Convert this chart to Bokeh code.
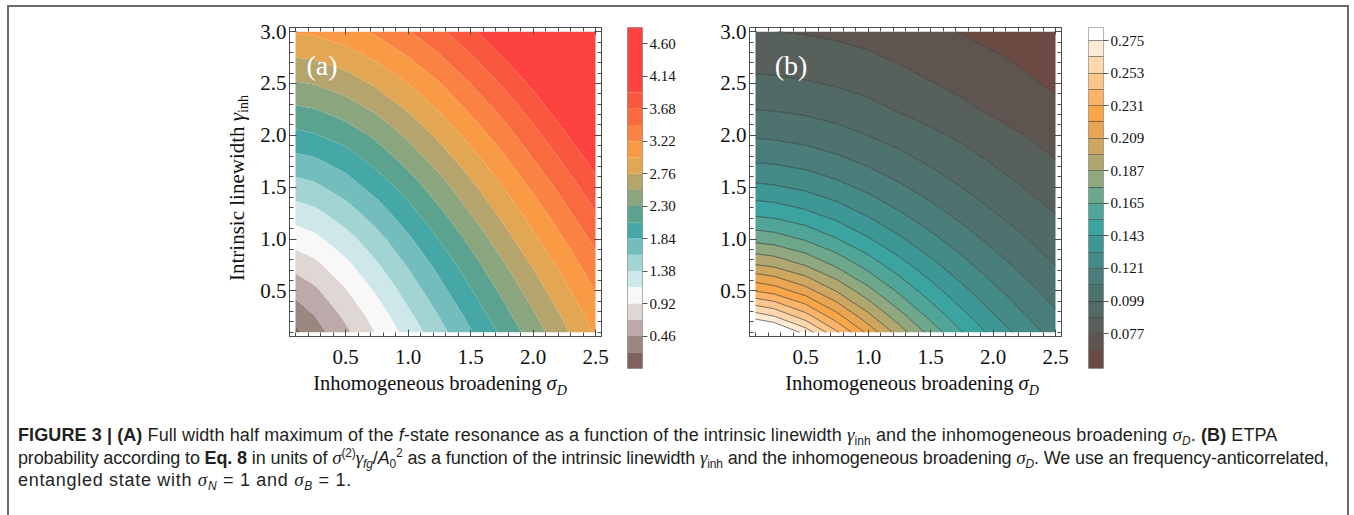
import numpy as np
from bokeh.plotting import figure
from bokeh.models import (Label, LinearAxis, SingleIntervalTicker, FixedTicker, Div,
                          PrintfTickFormatter, Range1d)
from bokeh.layouts import row, column
from bokeh.embed import file_html
from bokeh.resources import INLINE

# ---------------- data ----------------
sigma_D = [0.1, 0.25, 0.5, 0.75, 1.0, 1.25, 1.5, 1.75, 2.0, 2.25, 2.5]                 # x grid
gamma_inh = [0.1, 0.25, 0.5, 0.75, 1.0, 1.25, 1.5, 1.75, 2.0, 2.25, 2.5, 2.75, 3.0]    # y grid

# panel (a): FWHM, one list per gamma_inh value (across sigma_D)
fwhm_g010 = [0.18, 0.35, 0.64, 0.94, 1.23, 1.53, 1.82, 2.11, 2.41, 2.71, 3.03]
fwhm_g025 = [0.30, 0.45, 0.73, 1.02, 1.32, 1.61, 1.90, 2.20, 2.49, 2.79, 3.08]
fwhm_g050 = [0.53, 0.64, 0.90, 1.18, 1.47, 1.76, 2.05, 2.34, 2.63, 2.93, 3.22]
fwhm_g075 = [0.77, 0.86, 1.09, 1.35, 1.63, 1.91, 2.20, 2.49, 2.78, 3.07, 3.37]
fwhm_g100 = [1.02, 1.09, 1.29, 1.53, 1.80, 2.08, 2.36, 2.65, 2.94, 3.22, 3.51]
fwhm_g125 = [1.26, 1.32, 1.50, 1.73, 1.98, 2.25, 2.53, 2.81, 3.09, 3.38, 3.67]
fwhm_g150 = [1.51, 1.56, 1.72, 1.93, 2.17, 2.43, 2.70, 2.98, 3.26, 3.54, 3.83]
fwhm_g175 = [1.76, 1.80, 1.94, 2.14, 2.37, 2.62, 2.88, 3.15, 3.43, 3.71, 3.99]
fwhm_g200 = [2.01, 2.05, 2.17, 2.35, 2.57, 2.81, 3.07, 3.33, 3.60, 3.88, 4.16]
fwhm_g225 = [2.26, 2.29, 2.41, 2.57, 2.78, 3.01, 3.26, 3.51, 3.78, 4.05, 4.33]
fwhm_g250 = [2.51, 2.54, 2.64, 2.80, 2.99, 3.21, 3.45, 3.70, 3.96, 4.23, 4.50]
fwhm_g275 = [2.76, 2.78, 2.88, 3.03, 3.21, 3.42, 3.65, 3.90, 4.15, 4.41, 4.68]
fwhm_g300 = [3.01, 3.03, 3.12, 3.26, 3.43, 3.63, 3.86, 4.09, 4.34, 4.60, 4.86]

levels_a = [0.23, 0.46, 0.69, 0.92, 1.15, 1.38, 1.61, 1.84, 2.07, 2.30, 2.53, 2.76,
            2.99, 3.22, 3.45, 3.68, 3.91]
colors_a = ["#7f625b", "#9c8680", "#bbaaa9", "#ded7d4", "#f8f8f8", "#cee7e9", "#a3d4d4",
            "#73bdbc", "#45a8a7", "#5ca38f", "#8ba57f", "#b5a46c", "#e3a653", "#f99a45",
            "#fa8242", "#f96b3f", "#f9573e", "#fc4340"]
cbar_range_a = [0.0, 4.83]
cbar_ticks_a = [0.46, 0.92, 1.38, 1.84, 2.30, 2.76, 3.22, 3.68, 4.14, 4.60]

# panel (b): ETPA probability, one list per gamma_inh value
etpa_g010 = [0.2993, 0.2923, 0.2709, 0.2438, 0.2169, 0.1927, 0.1720, 0.1544, 0.1397, 0.1272, 0.1166]
etpa_g025 = [0.2707, 0.2649, 0.2475, 0.2248, 0.2018, 0.1808, 0.1624, 0.1467, 0.1334, 0.1220, 0.1122]
etpa_g050 = [0.2305, 0.2264, 0.2138, 0.1972, 0.1796, 0.1629, 0.1481, 0.1350, 0.1237, 0.1139, 0.1053]
etpa_g075 = [0.1983, 0.1954, 0.1863, 0.1739, 0.1605, 0.1474, 0.1353, 0.1245, 0.1149, 0.1065, 0.0991]
etpa_g100 = [0.1723, 0.1703, 0.1637, 0.1545, 0.1441, 0.1338, 0.1240, 0.1150, 0.1070, 0.0997, 0.0932]
etpa_g125 = [0.1514, 0.1499, 0.1451, 0.1382, 0.1302, 0.1220, 0.1140, 0.1066, 0.0997, 0.0935, 0.0878]
etpa_g150 = [0.1343, 0.1332, 0.1297, 0.1244, 0.1182, 0.1117, 0.1051, 0.0990, 0.0931, 0.0878, 0.0829]
etpa_g175 = [0.1203, 0.1195, 0.1168, 0.1127, 0.1079, 0.1027, 0.0973, 0.0922, 0.0872, 0.0820, 0.0775]
etpa_g200 = [0.1086, 0.1080, 0.1059, 0.1028, 0.0990, 0.0948, 0.0904, 0.0860, 0.0815, 0.0770, 0.0725]
etpa_g225 = [0.0988, 0.0984, 0.0968, 0.0943, 0.0913, 0.0870, 0.0832, 0.0792, 0.0752, 0.0715, 0.0682]
etpa_g250 = [0.0906, 0.0902, 0.0889, 0.0870, 0.0845, 0.0812, 0.0775, 0.0743, 0.0705, 0.0675, 0.0645]
etpa_g275 = [0.0835, 0.0832, 0.0822, 0.0806, 0.0786, 0.0755, 0.0725, 0.0697, 0.0670, 0.0645, 0.0619]
etpa_g300 = [0.0774, 0.0771, 0.0763, 0.0750, 0.0730, 0.0707, 0.0680, 0.0656, 0.0633, 0.0611, 0.0590]

levels_b = [0.066, 0.077, 0.088, 0.099, 0.110, 0.121, 0.132, 0.143, 0.154, 0.165,
            0.176, 0.187, 0.198, 0.209, 0.220, 0.231, 0.242, 0.253, 0.264, 0.275]
colors_b = ["#6b4a44", "#5e5550", "#57605b", "#526a65", "#4e736f", "#4a7e7a", "#448b87",
            "#3d9895", "#3ba4a0", "#4fa597", "#6da78c", "#8fa87f", "#b0a770", "#cda660",
            "#e8a552", "#f9a648", "#fbb467", "#fcc68a", "#fdd8ae", "#feead3", "#ffffff"]
cbar_range_b = [0.0534, 0.2838]
cbar_ticks_b = [0.077, 0.099, 0.121, 0.143, 0.165, 0.187, 0.209, 0.231, 0.253, 0.275]

# ---------------- styling ----------------
SERIF = "Liberation Serif"
X_RANGE = (0.052, 2.548)
Y_RANGE = (0.06, 3.04)
FRAME_W, FRAME_H = 312, 309
TOP_B, ROW_H = 20, 369
FRAME_COL = "#4d4d4d"
TXT = "#111111"
NOMARGIN = (0, 0, 0, 0)


def frame_axis(show_labels):
    ax = LinearAxis(ticker=SingleIntervalTicker(interval=0.5, num_minor_ticks=5),
                    formatter=PrintfTickFormatter(format="%.1f"))
    ax.major_tick_in = 7
    ax.major_tick_out = 0
    ax.minor_tick_in = 4
    ax.minor_tick_out = 0
    ax.axis_line_color = FRAME_COL
    ax.major_tick_line_color = FRAME_COL
    ax.minor_tick_line_color = FRAME_COL
    ax.major_label_text_font = SERIF
    if show_labels:
        ax.major_label_text_font_size = "21px"
        ax.major_label_text_color = TXT
    else:
        ax.major_label_text_font_size = "1px"
        ax.major_label_text_color = None
        ax.major_label_standoff = 0
    return ax


def panel(z, levels, colors, lb, rb, lines):
    p = figure(frame_width=FRAME_W, frame_height=FRAME_H, min_border_left=lb,
               min_border_right=rb, min_border_top=TOP_B,
               min_border_bottom=ROW_H - TOP_B - FRAME_H,
               x_range=Range1d(*X_RANGE), y_range=Range1d(*Y_RANGE),
               x_axis_type=None, y_axis_type=None,
               output_backend="svg", toolbar_location=None)
    p.outline_line_color = FRAME_COL
    if lines:
        p.contour(x=sigma_D, y=gamma_inh, z=z, levels=levels, fill_color=colors,
                  line_color="#262626", line_alpha=0.75, line_width=0.8)
    else:
        p.contour(x=sigma_D, y=gamma_inh, z=z, levels=levels, fill_color=colors,
                  line_color=None)
    bx = frame_axis(True)
    bx.major_label_standoff = 13
    p.add_layout(bx, "below")
    ly = frame_axis(True)
    ly.major_label_standoff = 3
    p.add_layout(ly, "left")
    p.add_layout(frame_axis(False), "above")
    p.add_layout(frame_axis(False), "right")
    return p


def colorbar(edges_range, levels, colors, ticks, fmt, frame_h, lb, rb, lines):
    edges = [edges_range[0]] + levels + [edges_range[1]]
    cb = figure(frame_width=15, frame_height=frame_h, min_border_left=lb,
                min_border_right=rb, min_border_top=TOP_B,
                min_border_bottom=ROW_H - TOP_B - frame_h,
                x_range=Range1d(0, 1), y_range=Range1d(edges[0], edges[-1]),
                x_axis_type=None, y_axis_type=None,
                output_backend="svg", toolbar_location=None)
    cb.quad(left=0, right=1, bottom=edges[:-1], top=edges[1:], fill_color=colors,
            line_color=None)
    if lines:
        cb.hspan(y=levels, line_color="#333333", line_width=0.7, line_alpha=0.8)
    ax = LinearAxis(ticker=FixedTicker(ticks=ticks), formatter=PrintfTickFormatter(format=fmt))
    ax.major_tick_out = 5
    ax.major_tick_in = 0
    ax.axis_line_color = None
    ax.major_tick_line_color = "#555555"
    ax.major_label_standoff = 2
    ax.major_label_text_font = SERIF
    ax.major_label_text_font_size = "15px"
    ax.major_label_text_color = TXT
    cb.add_layout(ax, "right")
    cb.outline_line_color = "#9a9a9a"
    return cb


# ---------------- panels ----------------
z_a = np.array([fwhm_g010, fwhm_g025, fwhm_g050, fwhm_g075, fwhm_g100, fwhm_g125, fwhm_g150,
                fwhm_g175, fwhm_g200, fwhm_g225, fwhm_g250, fwhm_g275, fwhm_g300])
pa = panel(z_a, [0.0] + levels_a + [5.0], colors_a, lb=30, rb=13, lines=False)
pa.add_layout(Label(x=0.188, y=2.67, text="(a)", text_font=SERIF, text_font_size="28px",
                    text_color="white", text_baseline="middle"))
cba = colorbar(cbar_range_a, levels_a, colors_a, cbar_ticks_a, "%.2f", 341, 13, 50, False)

z_b = np.array([etpa_g010, etpa_g025, etpa_g050, etpa_g075, etpa_g100, etpa_g125, etpa_g150,
                etpa_g175, etpa_g200, etpa_g225, etpa_g250, etpa_g275, etpa_g300])
pb = panel(z_b, [0.04] + levels_b + [0.32], colors_b, lb=57, rb=14, lines=True)
pb.add_layout(Label(x=0.253, y=2.67, text="(b)", text_font=SERIF, text_font_size="28px",
                    text_color="white", text_baseline="middle"))
cbb = colorbar(cbar_range_b, levels_b, colors_b, cbar_ticks_b, "%.3f", 341, 13, 62, True)

# ---------------- axis titles (HTML text) ----------------
SERIF_CSS = "font-family:'Liberation Serif',serif;color:%s;" % TXT
ylab_html = ('<div style="position:relative;width:248px;height:%dpx;">'
             '<div style="position:absolute;left:218px;top:331px;width:300px;text-align:center;'
             'transform:rotate(-90deg);transform-origin:left top;white-space:nowrap;'
             'font-size:21px;line-height:21px;%s">Intrinsic linewidth '
             '<i>γ</i><span style="font-size:14px;position:relative;top:4px;">inh</span>'
             '</div></div>') % (ROW_H, SERIF_CSS)
ylab_div = Div(text=ylab_html, width=248, height=ROW_H, margin=NOMARGIN)

XL = ('<i>σ</i><span style="font-size:14px;font-style:italic;position:relative;top:5px;">D</span>')


def xlab_box(center):
    return ('<div style="position:absolute;left:%dpx;top:-3px;width:300px;text-align:center;'
            'white-space:nowrap;font-size:20.5px;line-height:20px;%s">'
            'Inhomogeneous broadening %s</div>') % (center - 150, SERIF_CSS, XL)


xlab_html = ('<div style="position:relative;width:1342px;height:34px;">' +
             xlab_box(431) + xlab_box(903) + '</div>')
xlab_div = Div(text=xlab_html, width=1342, height=34, margin=NOMARGIN)

# ---------------- caption ----------------
def G(c):
    return ('<span style="font-family:\'Liberation Serif\',serif;font-style:italic;'
            'font-size:19px">' + c + '</span>')


def SUB(t, italic=False):
    st = "font-style:italic;" if italic else ""
    return ('<span style="font-size:12px;position:relative;top:4px;' + st + '">' + t + '</span>')


def SUP(t):
    return ('<span style="font-size:12px;position:relative;top:-7px;">' + t + '</span>')


line1 = ('<b>FIGURE 3 | (A)</b> Full width half maximum of the <i>f</i>-state resonance as a '
         'function of the intrinsic linewidth ' + G('γ') + SUB('inh') +
         ' and the inhomogeneous broadening ' + G('σ') + SUB('D', True) +
         '. <b>(B)</b> ETPA')
line2 = ('probability according to <b>Eq. 8</b> in units of ' + G('σ') + SUP('(2)') + G('γ') +
         SUB('fg', True) + '/<i>A</i>' + SUB('0') + SUP('2') +
         ' as a function of the intrinsic linewidth ' + G('γ') + SUB('inh') +
         ' and the inhomogeneous broadening ' + G('σ') + SUB('D', True) +
         '. We use an frequency-anticorrelated,')
line3 = ('entangled state with ' + G('σ') + SUB('N', True) + ' = 1 and ' + G('σ') +
         SUB('B', True) + ' = 1.')

LS = "white-space:nowrap;height:22.5px;line-height:22.5px;"
cap_html = ('<div style="font-family:\'Liberation Sans\',Arial,sans-serif;'
            'font-size:18px;color:#231f20;padding-left:9px;padding-top:14px;">'
            '<div style="' + LS + 'letter-spacing:0.1px;">' + line1 + '</div>'
            '<div style="' + LS + 'letter-spacing:-0.14px;">' + line2 + '</div>'
            '<div style="' + LS + 'letter-spacing:0.7px;">' + line3 + '</div></div>')
caption = Div(text=cap_html, width=1342, height=105, margin=NOMARGIN)

# ---------------- layout with outer border ----------------
BORDER = "2px solid #6b6b6b"
plots_row = row(ylab_div, pa, cba, pb, cbb)
root = column(plots_row, xlab_div, caption, margin=(5, 0, 0, 7),
              styles={"border-top": BORDER, "border-left": BORDER, "border-right": BORDER,
                      "width": "1342px"})

open("out.html", "w").write(file_html(root, INLINE))
